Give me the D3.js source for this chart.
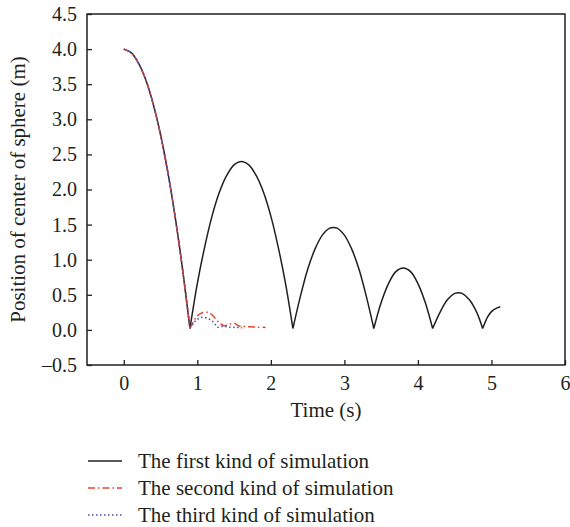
<!DOCTYPE html>
<html><head><meta charset="utf-8">
<script src="https://cdn.jsdelivr.net/npm/d3@7"></script>
<style>
body{margin:0;background:#fff}
text{font-family:"Liberation Serif","Times New Roman",serif;fill:#231f20}
</style>
</head><body>
<svg id="c" width="570" height="527"></svg>
<script>
const xTicks=[0,1,2,3,4,5,6];
const yTicks=[-0.5,0,0.5,1,1.5,2,2.5,3,3.5,4,4.5];
const seriesNames=["The first kind of simulation","The second kind of simulation","The third kind of simulation"];

const timeFirst=[0,0.1,0.2,0.3,0.4,0.5,0.6,0.7,0.8,0.9,
 1.0,1.1,1.2,1.3,1.4,1.5,1.6,1.7,1.8,1.9,2.0,2.1,2.2,2.3,
 2.4,2.5,2.6,2.7,2.8,2.85,2.9,3.0,3.1,3.2,3.3,3.4,
 3.5,3.6,3.7,3.8,3.9,4.0,4.1,4.2,
 4.3,4.4,4.5,4.55,4.6,4.7,4.8,4.88,
 4.95,5.0,5.05,5.12];
const posFirst=[4.0,3.95,3.80,3.56,3.22,2.78,2.24,1.60,0.86,0.02,
 0.66,1.18,1.62,1.96,2.20,2.35,2.40,2.35,2.20,1.96,1.62,1.18,0.66,0.02,
 0.47,0.86,1.15,1.35,1.45,1.46,1.45,1.35,1.15,0.86,0.47,0.02,
 0.39,0.66,0.83,0.88,0.83,0.66,0.39,0.02,
 0.25,0.43,0.52,0.53,0.52,0.43,0.25,0.02,
 0.19,0.26,0.30,0.33];

const timeSecond=[0,0.1,0.2,0.3,0.4,0.5,0.6,0.7,0.8,0.9,
 0.95,1.0,1.05,1.1,1.15,1.2,1.25,1.3,1.36,1.42,1.5,1.56,1.62,1.7,1.8,1.93];
const posSecond=[4.0,3.95,3.80,3.56,3.22,2.78,2.24,1.60,0.86,0.02,
 0.12,0.20,0.235,0.25,0.25,0.215,0.16,0.10,0.06,0.075,0.095,0.06,0.05,0.045,0.04,0.035];

const timeThird=[0,0.1,0.2,0.3,0.4,0.5,0.6,0.7,0.8,0.9,
 0.95,1.0,1.07,1.16,1.23,1.27,1.34,1.43,1.52,1.61];
const posThird=[4.0,3.95,3.80,3.56,3.22,2.78,2.24,1.60,0.86,0.02,
 0.10,0.15,0.18,0.155,0.10,0.04,0.05,0.04,0.035,0.03];

const svg=d3.select("#c");
const x=d3.scaleLinear().domain([-0.5,6]).range([87,565]);
const y=d3.scaleLinear().domain([-0.5,4.5]).range([365,14]);
const axisColor="#231f20";
const fs=21;

// frame
svg.append("rect").attr("x",x(-0.5)).attr("y",y(4.5))
 .attr("width",x(6)-x(-0.5)).attr("height",y(-0.5)-y(4.5))
 .attr("fill","none").attr("stroke",axisColor).attr("stroke-width",1.5);

const fmtY=v=>(v<0?"\u2013":"")+d3.format(".1f")(Math.abs(v));
const gx=svg.append("g").attr("transform",`translate(0,${y(-0.5)})`)
 .call(d3.axisBottom(x).tickValues(xTicks).tickSizeInner(-5).tickSizeOuter(0).tickPadding(11).tickFormat(d3.format("d")));
const gy=svg.append("g").attr("transform",`translate(${x(-0.5)},0)`)
 .call(d3.axisLeft(y).tickValues(yTicks).tickSizeInner(-5).tickSizeOuter(0).tickPadding(10).tickFormat(fmtY));
[gx,gy].forEach(g=>{
 g.select(".domain").remove();
 g.selectAll(".tick line").attr("stroke",axisColor).attr("stroke-width",1.3);
 g.selectAll(".tick text").attr("font-size",20).attr("fill","#231f20");
});

// axis titles
svg.append("text").attr("x",(x(-0.5)+x(6))/2).attr("y",417).attr("text-anchor","middle")
 .attr("font-size",fs).text("Time (s)");
svg.append("text").attr("transform",`translate(25,${(y(4.5)+y(-0.5))/2}) rotate(-90)`)
 .attr("text-anchor","middle").attr("font-size",fs).text("Position of center of sphere (m)");

// split series into arcs at ground contacts
function arcs(ts,ps){
 const pts=ts.map((t,i)=>[t,ps[i]]);
 const out=[];let cur=[pts[0]];
 for(let i=1;i<pts.length;i++){
  cur.push(pts[i]);
  if(i<pts.length-1 && ps[i]<0.025 && ps[i]<ps[i-1] && ps[i]<ps[i+1]){out.push(cur);cur=[pts[i]];}
 }
 out.push(cur);return out;
}
const line=d3.line().x(d=>x(d[0])).y(d=>y(d[1])).curve(d3.curveCatmullRom.alpha(0.5));

const styles=[
 {color:"#231f20",dash:null,w:1.5},
 {color:"#e8452c",dash:"7,3,1.5,3",w:1.5},
 {color:"#4b4bb0",dash:"1.5,2.5",w:1.5}
];
const seriesData=[[timeFirst,posFirst],[timeSecond,posSecond],[timeThird,posThird]];
seriesData.forEach((s,k)=>{
 const d=arcs(s[0],s[1]).map(a=>line(a)).join("");
 svg.append("path").attr("d",d).attr("fill","none").attr("stroke",styles[k].color)
  .attr("stroke-width",styles[k].w).attr("stroke-dasharray",styles[k].dash);
});

// legend
const lg=svg.append("g");
seriesNames.forEach((n,k)=>{
 const yy=461+k*27;
 lg.append("line").attr("x1",88).attr("x2",122).attr("y1",yy).attr("y2",yy)
  .attr("stroke",styles[k].color).attr("stroke-width",1.5).attr("stroke-dasharray",styles[k].dash);
 lg.append("text").attr("x",138).attr("y",yy).attr("dy","0.35em").attr("font-size",fs).text(n);
});
</script>
</body></html>
